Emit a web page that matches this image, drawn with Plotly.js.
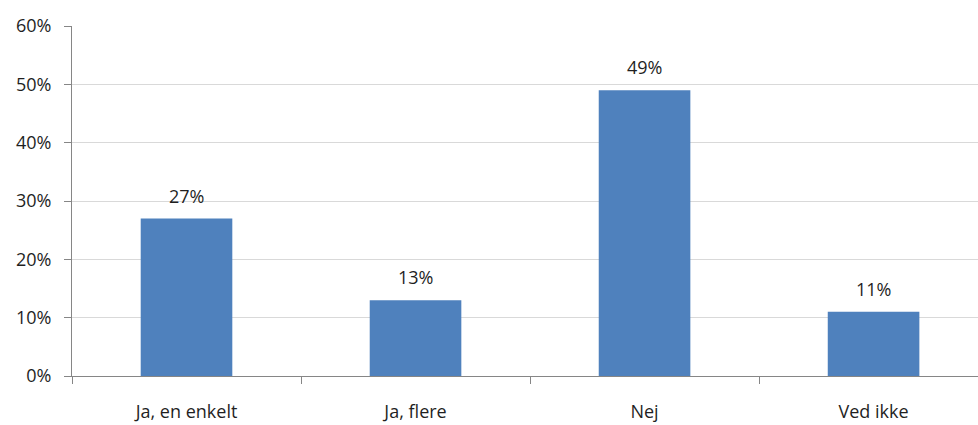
<!DOCTYPE html>
<html>
<head>
<meta charset="utf-8">
<script src="https://cdn.plot.ly/plotly-3.0.1.min.js"></script>
<style>html,body{margin:0;padding:0;background:#fff;}#chart{width:978px;height:425px;}</style>
</head>
<body>
<div id="chart"></div>
<script>
var categories = ["Ja, en enkelt", "Ja, flere", "Nej", "Ved ikke"];
var values = [27, 13, 49, 11];
var labels = ["27%", "13%", "49%", "11%"];
var yTicks = [0, 10, 20, 30, 40, 50, 60];

var font = "Open Sans, Noto Sans, sans-serif";
var trace = {
  type: "bar",
  x: categories,
  y: values,
  marker: {color: "#4F81BD"},
  hoverinfo: "none"
};
var annotations = categories.map(function (c, i) {
  return {
    x: c, y: values[i], text: labels[i], showarrow: false,
    yanchor: "bottom", yshift: 9,
    font: {family: font, size: 18, color: "#1f1f1f"}
  };
});
var layout = {
  width: 978, height: 425,
  margin: {l: 72, r: 0, t: 26, b: 49},
  paper_bgcolor: "#fff", plot_bgcolor: "#fff",
  bargap: 0.6,
  showlegend: false,
  font: {family: font, size: 18, color: "#1f1f1f"},
  xaxis: {
    type: "category",
    range: [-0.5, 3.456],
    showline: true, linecolor: "#868686", linewidth: 1,
    ticks: "outside", tickson: "boundaries", ticklen: 7, tickcolor: "#868686",
    ticklabelstandoff: 19,
    showgrid: false, zeroline: false,
    tickfont: {family: font, size: 18, color: "#1f1f1f"}
  },
  yaxis: {
    range: [0, 60],
    tickvals: yTicks,
    ticktext: yTicks.map(function (v) { return v + "%"; }),
    showline: true, linecolor: "#868686", linewidth: 1,
    ticks: "outside", ticklen: 7, tickcolor: "#868686",
    ticklabelstandoff: 9,
    showgrid: true, gridcolor: "#d9d9d9", gridwidth: 1,
    zeroline: false,
    tickfont: {family: font, size: 18, color: "#1f1f1f"}
  },
  annotations: annotations
};
Plotly.newPlot("chart", [trace], layout, {staticPlot: true, displayModeBar: false});
</script>
</body>
</html>
